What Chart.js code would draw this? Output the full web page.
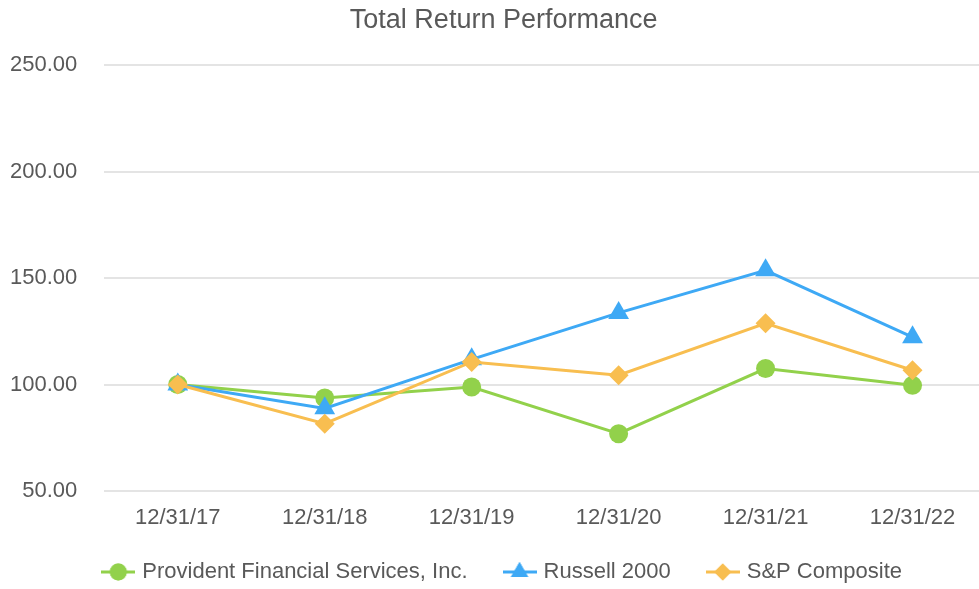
<!DOCTYPE html>
<html>
<head>
<meta charset="utf-8">
<title>Total Return Performance</title>
<script src="https://cdn.jsdelivr.net/npm/chart.js@4.4.1/dist/chart.umd.min.js"></script>
<style>
    html, body { margin: 0; padding: 0; background: #ffffff; overflow: hidden; }
    #wrap { position: absolute; left: 0; top: 0; width: 998px; height: 602px; }
</style>
</head>
<body>
<div id="wrap"><canvas id="perfChart"></canvas></div>
<script>
// --- Data ---
const dates = ['12/31/17', '12/31/18', '12/31/19', '12/31/20', '12/31/21', '12/31/22'];
const provident = [100.0, 93.7, 98.8, 76.9, 107.5, 99.6];
const russell2000 = [100.0, 88.8, 111.8, 133.6, 153.6, 122.2];
const spComposite = [100.0, 81.6, 110.6, 104.4, 128.7, 106.7];
const yTicks = [50, 100, 150, 200, 250];

const seriesNames = ['Provident Financial Services, Inc.', 'Russell 2000', 'S&P Composite'];
const seriesColors = ['#92d14b', '#3ea9f5', '#f8be50'];
const seriesMarkers = ['circle', 'triangle', 'rectRot'];

const textColor = '#595959';
const fontFamily = '"Liberation Sans", Arial, sans-serif';

// Little line + marker swatch for the legend
function legendIcon(color, marker) {
    const c = document.createElement('canvas');
    c.width = 34;
    c.height = 22;
    const g = c.getContext('2d');
    g.strokeStyle = color;
    g.fillStyle = color;
    g.lineWidth = 3;
    g.beginPath();
    g.moveTo(0, 11);
    g.lineTo(34, 11);
    g.stroke();
    const r = marker === 'triangle' ? 10 : 8.5;
    Chart.helpers.drawPoint(g, { pointStyle: marker, radius: r, rotation: 0, borderWidth: 0 }, 17, 11);
    g.fill();
    return c;
}

const legendIcons = seriesColors.map((col, i) => legendIcon(col, seriesMarkers[i]));

function makeDataset(i, values, radius, order) {
    return {
        label: seriesNames[i],
        data: values,
        borderColor: seriesColors[i],
        backgroundColor: seriesColors[i],
        borderWidth: 3,
        tension: 0,
        pointStyle: seriesMarkers[i],
        pointRadius: radius,
        pointHoverRadius: radius,
        pointBorderWidth: 0,
        pointBackgroundColor: seriesColors[i],
        order: order
    };
}

// title + legend sit a little off from where chart.js centres them
const boxNudge = {
    id: 'boxNudge',
    afterLayout(chart) {
        chart.legend.top -= 9;
        chart.legend.bottom -= 9;
        chart.legend.left += 4;
        chart.legend.right += 4;
        chart.titleBlock.left += 8;
    }
};

new Chart(document.getElementById('perfChart'), {
    type: 'line',
    data: {
        labels: dates,
        datasets: [
            makeDataset(0, provident, 9.5, 3),
            makeDataset(1, russell2000, 12, 2),
            makeDataset(2, spComposite, 10, 1)
        ]
    },
    plugins: [boxNudge],
    options: {
        responsive: true,
        maintainAspectRatio: false,
        animation: false,
        layout: { padding: { left: 9.3, right: 8, top: 0, bottom: 0 } },
        plugins: {
            title: {
                display: true,
                text: 'Total Return Performance',
                color: textColor,
                font: { family: fontFamily, size: 27, weight: 'normal' },
                padding: { top: 4, bottom: 28.6 }
            },
            legend: {
                position: 'bottom',
                labels: {
                    color: textColor,
                    font: { family: fontFamily, size: 22 },
                    usePointStyle: true,
                    pointStyleWidth: 26,
                    padding: 39,
                    generateLabels: (chart) => chart.data.datasets.map((ds, i) => ({
                        text: ds.label,
                        pointStyle: legendIcons[i],
                        fillStyle: ds.borderColor,
                        strokeStyle: ds.borderColor,
                        lineWidth: 0,
                        hidden: false,
                        fontColor: textColor,
                        datasetIndex: i
                    }))
                }
            },
            tooltip: { enabled: false }
        },
        scales: {
            x: {
                offset: true,
                grid: { display: false },
                border: { display: false },
                ticks: {
                    color: textColor,
                    font: { family: fontFamily, size: 22 },
                    padding: 6,
                    autoSkip: false,
                    maxRotation: 0
                },
                afterFit: (scale) => { scale.height = 40; }
            },
            y: {
                min: 50,
                max: 250,
                grid: { color: '#e4e4e4', lineWidth: 2, drawTicks: false },
                border: { display: false },
                afterBuildTicks: (scale) => { scale.ticks = yTicks.map(v => ({ value: v })); },
                ticks: {
                    color: textColor,
                    font: { family: fontFamily, size: 22 },
                    padding: 27,
                    callback: (v) => Number(v).toFixed(2)
                },
                afterFit: (scale) => { scale.width = 95; }
            }
        }
    }
});
</script>
</body>
</html>
